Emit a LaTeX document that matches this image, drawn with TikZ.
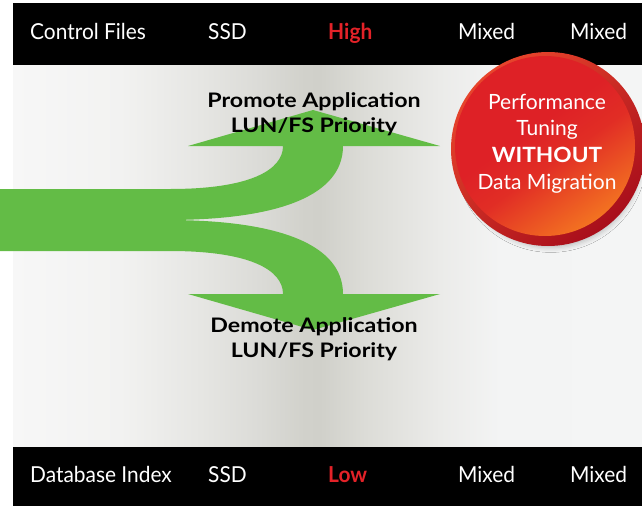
\documentclass[tikz,border=0pt]{standalone}
\usepackage{fontspec}
\setmainfont{Lato}
\newfontfamily\barfont{Lato}[FakeStretch=0.95]
\newfontfamily\flowfont{Lato}[FakeStretch=1.16]
\newfontfamily\badgebold{Lato}[FakeStretch=1.08]
\usetikzlibrary{shadows.blur}

\definecolor{hotred}{HTML}{E32228}
\definecolor{flowgreen}{HTML}{63BC46}
\definecolor{bgA}{HTML}{F7F7F7}
\definecolor{bgB}{HTML}{F2F2F1}
\definecolor{bgC}{HTML}{E6E6E3}
\definecolor{bgD}{HTML}{DBDBD7}
\definecolor{bgE}{HTML}{D1D1CB}
\definecolor{bgF}{HTML}{D0D0CA}
\definecolor{bgG}{HTML}{DCDCD7}
\definecolor{bgH}{HTML}{EBEBE9}
\definecolor{bgI}{HTML}{F3F4F4}
\definecolor{bgJ}{HTML}{F4F5F5}
\definecolor{rimlight}{HTML}{E8452C}
\definecolor{rimdark}{HTML}{A80E1B}
\definecolor{facered}{HTML}{DE2126}
\definecolor{faceorange}{HTML}{F37321}

% grey band behind the flow arrows
\pgfdeclarehorizontalshading{midband}{100bp}{%
  color(0bp)=(bgA); color(25bp)=(bgA); color(33.5bp)=(bgB);
  color(39.9bp)=(bgC); color(44.6bp)=(bgD); color(48.2bp)=(bgE);
  color(49.4bp)=(bgF); color(53bp)=(bgG); color(58.9bp)=(bgH);
  color(63.7bp)=(bgI); color(75bp)=(bgJ); color(100bp)=(bgJ)}

% badge face: red over most of the disc, orange towards the lower edge
\pgfdeclareverticalshading{badgeface}{100bp}{%
  color(0bp)=(faceorange); color(25bp)=(faceorange);
  color(45bp)=(facered!85!faceorange); color(56bp)=(facered);
  color(75bp)=(facered); color(100bp)=(facered)}

\begin{document}
\begin{tikzpicture}[x=1pt,y=-1pt,
  barlabel/.style={text=white, font=\barfont\fontsize{22}{22}\selectfont,
    anchor=base west, inner sep=0pt},
  hotlabel/.style={barlabel, text=hotred,
    font=\barfont\fontsize{22}{22}\selectfont\bfseries},
  flowlabel/.style={text=black, font=\flowfont\fontsize{20}{20}\selectfont\bfseries,
    anchor=base, inner sep=0pt},
  badgetext/.style={text=white, font=\fontsize{21}{21}\selectfont,
    anchor=base, inner sep=0pt}]

\useasboundingbox (0,0) rectangle (642,506);
\fill[white] (0,0) rectangle (642,506);

% middle panel and the two black bars
\shade[shading=midband] (13,65) rectangle (642,447);
\fill[black] (13,3) rectangle (642,65);
\fill[black] (13,447) rectangle (642,506);

% split flow arrow
\fill[flowgreen]
  (-1,189) -- (170,189)
  .. controls (250,189) and (283,170) .. (283,146)
  -- (188,146) -- (313,110) -- (440,146) -- (343,146)
  .. controls (343,195) and (280,220) .. (167,220)
  .. controls (280,220) and (343,245) .. (343,294)
  -- (440,294) -- (313,330) -- (188,294) -- (283,294)
  .. controls (283,270) and (250,251) .. (170,251)
  -- (-1,251) -- cycle;

% labels of the top bar
\node[barlabel] (cf)  at (30,39)  {Control Files};
\node[barlabel] (ssd1) at (208,39) {SSD};
\node[hotlabel] (hi)  at (328,39) {High};
\node[barlabel] (mx1) at (458,39) {Mixed};
\node[barlabel] (mx2) at (570,39) {Mixed};

% labels of the bottom bar
\node[barlabel] (dbi) at (30,482)  {Database Index};
\node[barlabel] (ssd2) at (208,482) {SSD};
\node[hotlabel] (lo)  at (328,482) {Low};
\node[barlabel] (mx3) at (458,482) {Mixed};
\node[barlabel] (mx4) at (570,482) {Mixed};

% flow labels
\node[flowlabel] (pro1) at (314,107) {Promote Application};
\node[flowlabel] (pro2) at (314,132) {LUN/FS Priority};
\node[flowlabel] (dem1) at (314,332) {Demote Application};
\node[flowlabel] (dem2) at (314,357) {LUN/FS Priority};

% badge
\shade[top color=rimlight, bottom color=rimdark, shading angle=40,
  blur shadow={shadow xshift=3pt, shadow yshift=-8pt, shadow scale=0.94,
    shadow blur radius=5pt, shadow opacity=22}]
  (548,149) circle[radius=97];
\shade[shading=badgeface, shading angle=35]
  (545,146) circle[radius=90];
\node[badgetext] (b1) at (547,109) {Performance};
\node[badgetext] (b2) at (547,135) {Tuning};
\node[badgetext, font=\badgebold\fontsize{21}{21}\selectfont\bfseries] (b3) at (547,162) {WITHOUT};
\node[badgetext] (b4) at (547,189) {Data Migration};
\end{tikzpicture}
\end{document}
